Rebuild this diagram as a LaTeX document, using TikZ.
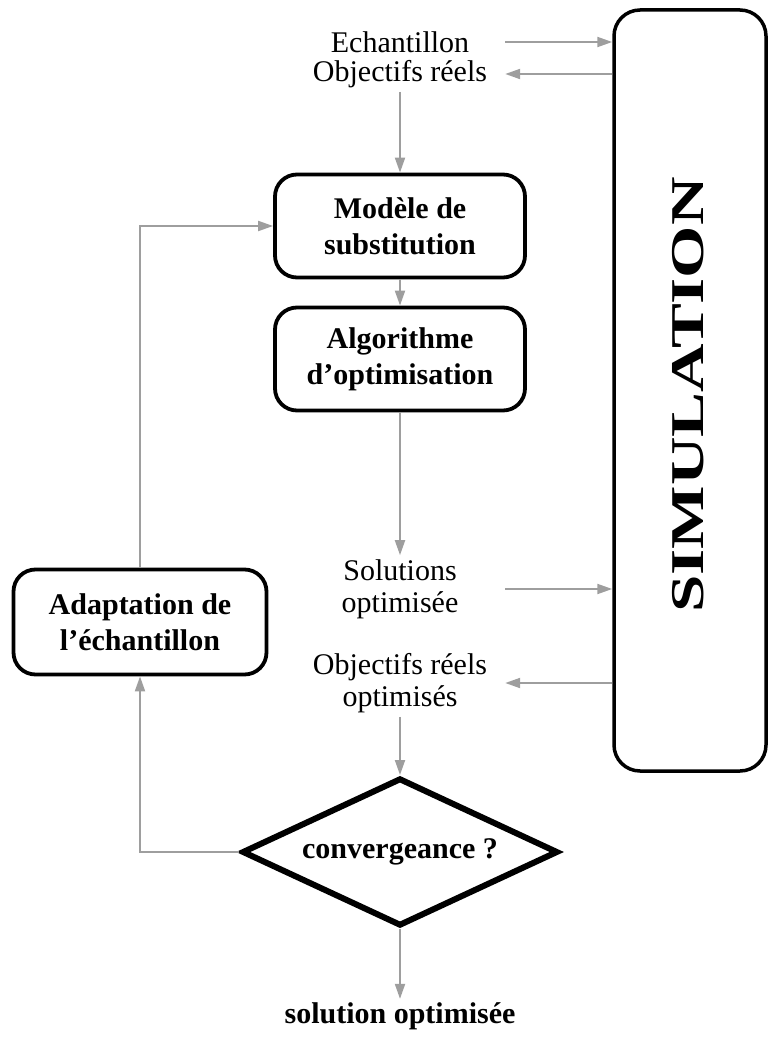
\documentclass[tikz,border=0pt]{standalone}
\usepackage{fontspec}
\usepackage{graphicx}
\setmainfont{Liberation Serif}
\usetikzlibrary{calc, arrows.meta, shapes.geometric}

\begin{document}
\begin{tikzpicture}[x=1pt, y=-1pt,
    flow/.style={draw=black!38, line width=2pt, -{Triangle[length=15pt, width=10pt]}},
    lbl/.style={align=center, minimum width=210pt, inner sep=4pt,
                font=\fontsize{30}{32}\selectfont},
    box/.style={draw, rounded corners=22pt, line width=3.8pt, align=center,
                minimum width=250pt, minimum height=103pt, inner sep=0pt,
                font=\fontsize{30}{36}\selectfont\bfseries}]
  \useasboundingbox (0,0) rectangle (769,1040);
  % boite de simulation
  \node[draw, rounded corners=26pt, line width=3.5pt, minimum width=152pt,
        minimum height=761pt, inner sep=0pt] (sim) at (690,390.5) {};
  \node[rotate=90, inner sep=0pt, font=\fontsize{47}{47}\selectfont\bfseries]
        (simtxt) at (688,395) {\scalebox{1.43}[1]{SIMULATION}};
  \node[lbl] (ech) at (400,42) {Echantillon};
  \node[lbl] (objr) at (400,74) {Objectifs réels};
  \node[box] (mod) at (400,226) {Modèle de\\substitution};
  \node[box] (alg) at (400,359) {Algorithme\\d’optimisation};
  \node[lbl] (sol) at (400,589) {Solutions\\optimisée};
  \node[lbl] (obo) at (400,683) {Objectifs réels\\optimisés};
  \node[box, minimum width=253pt, minimum height=105pt] (ada) at (140,622)
        {Adaptation de\\l’échantillon};
  \node[draw, diamond, aspect=2.09, line width=6pt, minimum width=316pt,
        minimum height=148pt, inner sep=0pt,
        font=\fontsize{30}{32}\selectfont\bfseries] (dia) at (400,852) {convergeance ?};
  \node[font=\fontsize{30}{32}\selectfont\bfseries] (fin) at (400,1016) {solution optimisée};
  % fleches
  \draw[flow] (ech.east) -- (ech.east -| sim.west);
  \draw[flow] (objr.east -| sim.west) -- (objr.east);
  \draw[flow] (objr.south) -- (mod.north);
  \draw[flow] (mod.south) -- (alg.north);
  \draw[flow] (alg.south) -- (sol.north);
  \draw[flow] (sol.east) -- (sol.east -| sim.west);
  \draw[flow] (obo.east -| sim.west) -- (obo.east);
  \draw[flow] (obo.south) -- (dia.north);
  \draw[flow] (dia.south) -- (fin.north);
  \draw[flow] (dia.west) -| (ada.south);
  \draw[flow] (ada.north) |- (mod.west);
\end{tikzpicture}
\end{document}
